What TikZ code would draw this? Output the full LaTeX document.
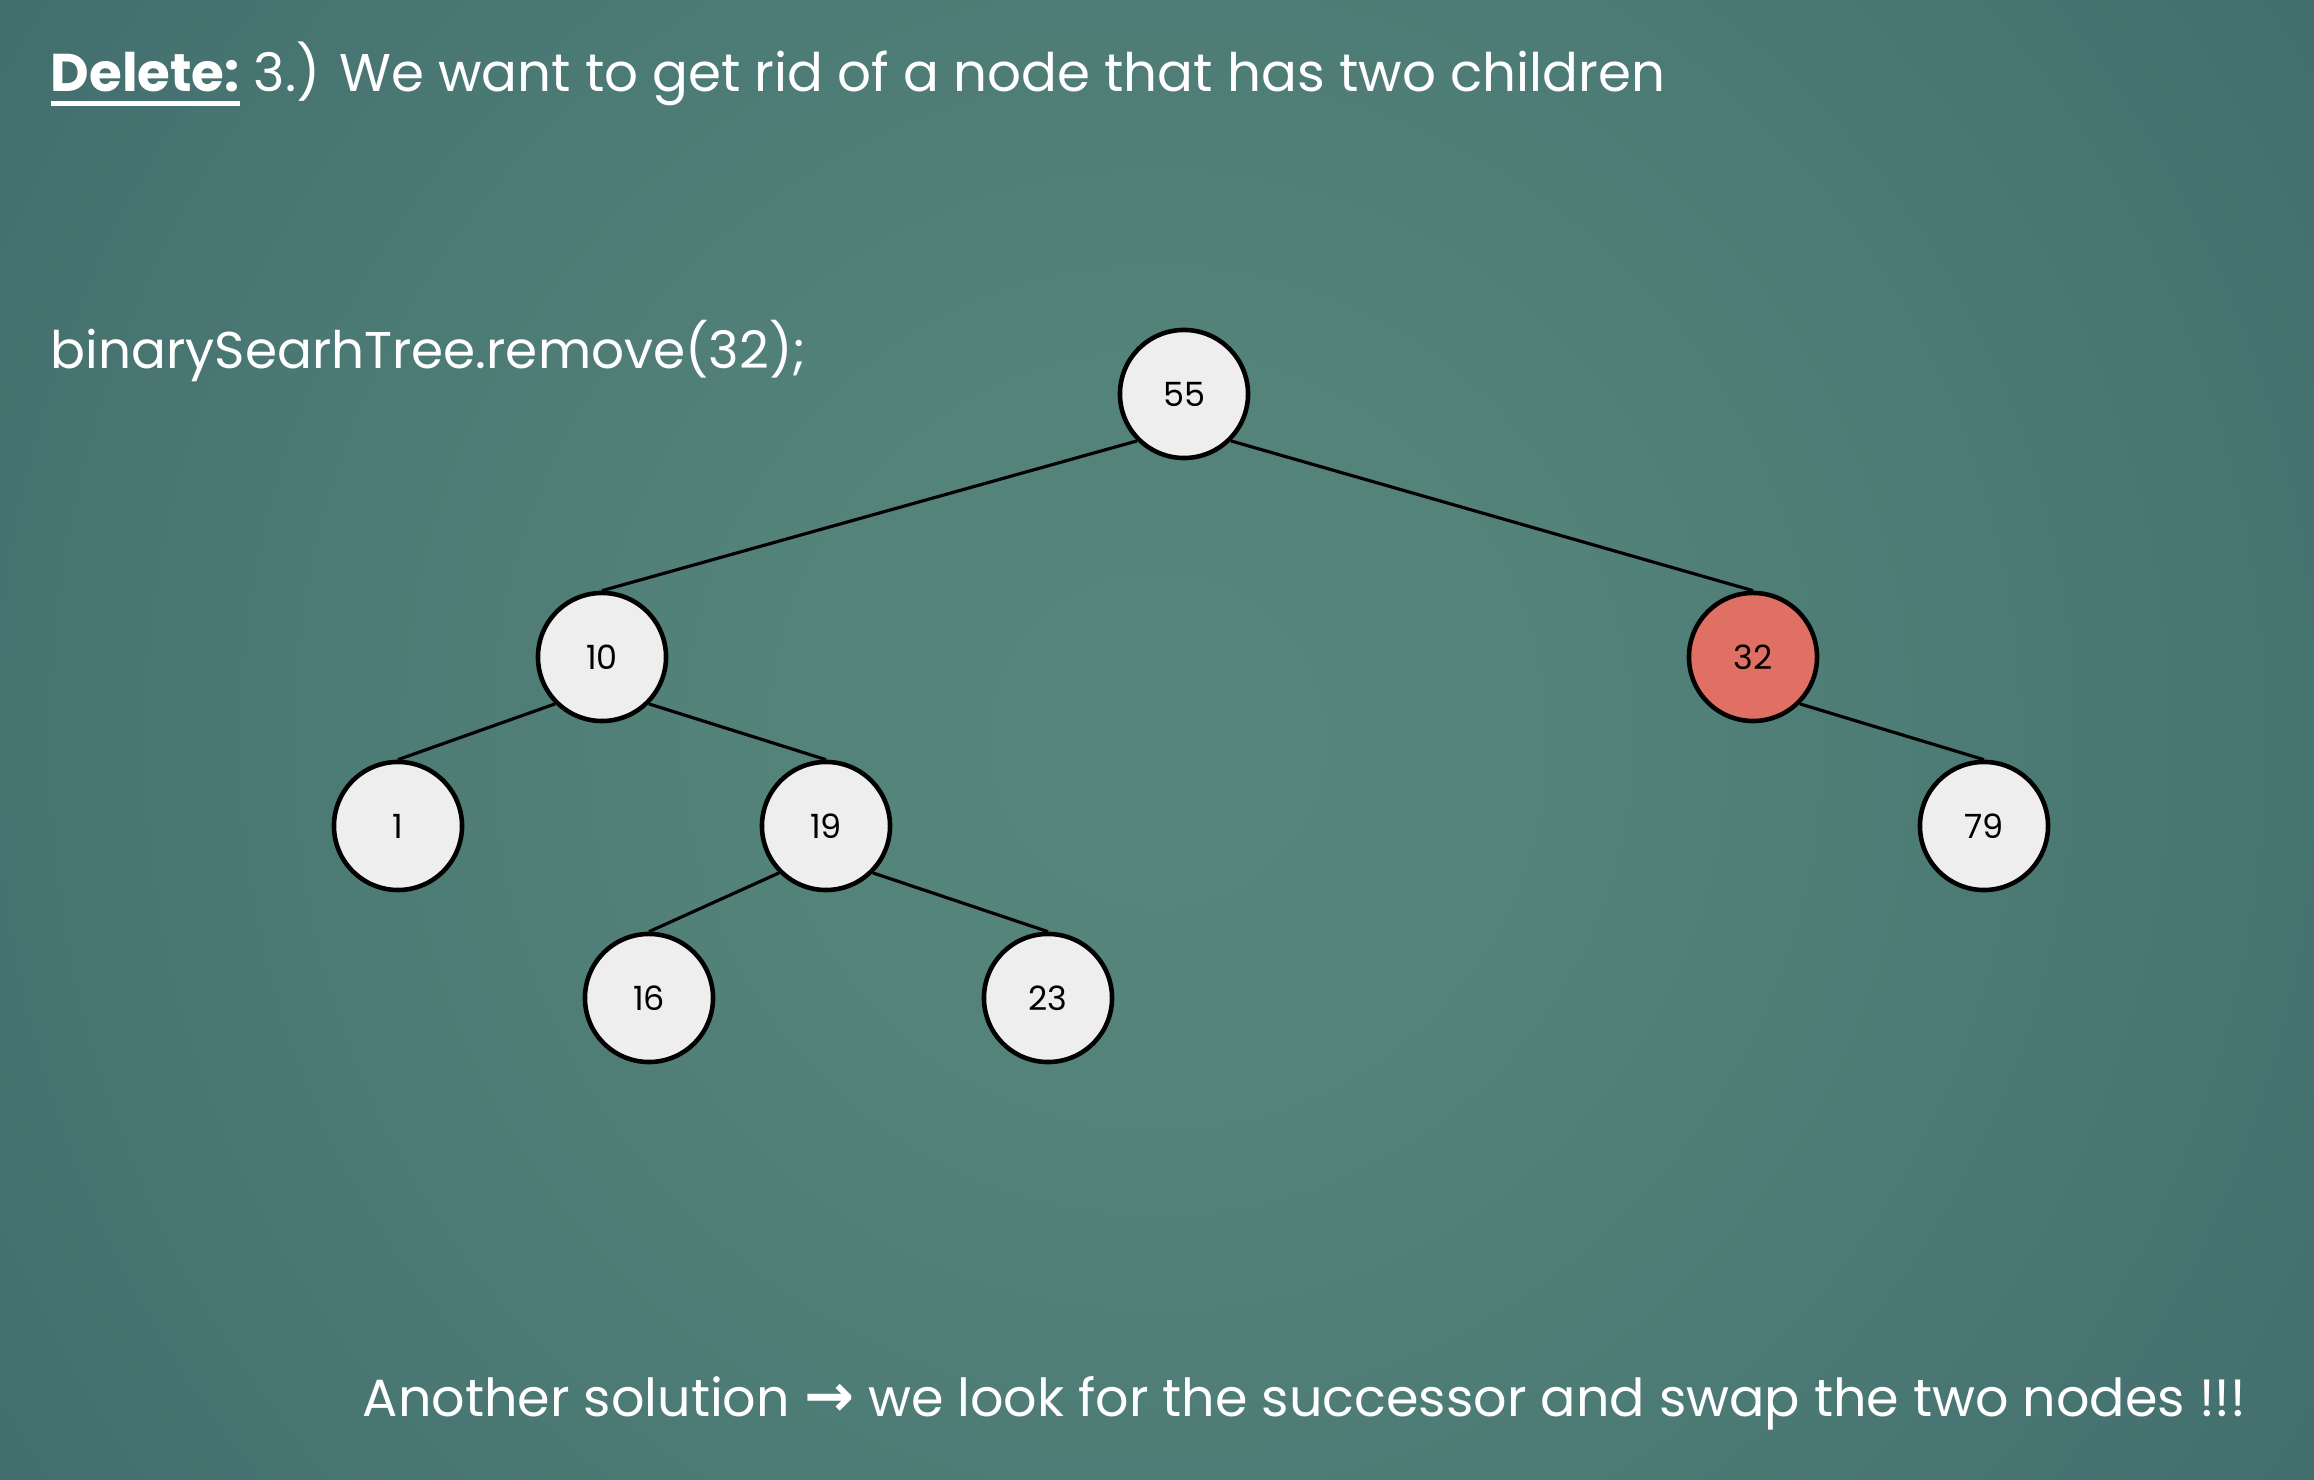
\documentclass[tikz,border=0pt]{standalone}
\usepackage{fontspec}
\setmainfont{Poppins}
\newfontfamily\arrowfont{DejaVu Sans}
\usetikzlibrary{positioning}
\definecolor{slidecentre}{RGB}{86,134,124}
\definecolor{slidelight}{RGB}{83,130,121}
\definecolor{slidemid}{RGB}{69,114,112}
\definecolor{slideedge}{RGB}{43,81,93}
\definecolor{slidedark}{RGB}{36,70,84}
\definecolor{nodegray}{RGB}{238,238,238}
\definecolor{delred}{RGB}{224,112,100}
\pgfdeclareradialshading{slidebg}{\pgfpoint{0bp}{0bp}}{color(0bp)=(slidecentre); color(8bp)=(slidelight); color(22bp)=(slidemid); color(41bp)=(slideedge); color(50bp)=(slidedark)}
\newcommand\thickul[1]{\setbox0\hbox{#1}\rlap{\rule[-0.14cm]{\wd0}{1.4pt}}\box0\relax}

\begin{document}
\begin{tikzpicture}[x=0.01cm, y=-0.01cm,
  treenode/.style={circle, draw=black, line width=1.3pt, fill=nodegray, minimum size=1.28cm, inner sep=0pt, font=\fontsize{9.5}{10}\selectfont},
  delnode/.style={treenode, fill=delred},
  link/.style={line width=0.9pt, black},
  slidetext/.style={anchor=base west, text=white, inner sep=0pt, font=\fontsize{15.1}{18}\selectfont}
]
  \begin{scope}
    \clip (0,0) rectangle (2314,1480);
    \shade[shading=slidebg] (1157,740) circle (14cm);
  \end{scope}
  \useasboundingbox (0,0) rectangle (2314,1480);

  \node[slidetext] (title) at (50,92) {\thickul{\textbf{Delete:}} 3.) We want to get rid of a node that has two children};
  \node[slidetext, font=\fontsize{14.7}{18}\selectfont] (code) at (50,369) {binarySearhTree.remove(32);};
  \node[slidetext, font=\fontsize{14.9}{18}\selectfont] (note) at (362,1417) {Another solution {\arrowfont\fontsize{17}{18}\selectfont\textbf{→}} we look for the successor and swap the two nodes !!!};

  % tree
  \node[treenode] (n55) at (1184,394) {55};
  \node[treenode] (n10) at (602,657) {10};
  \node[delnode] (n32) at (1753,657) {32};
  \node[treenode] (n1) at (398,826) {1};
  \node[treenode] (n19) at (826,826) {19};
  \node[treenode] (n79) at (1984,826) {79};
  \node[treenode] (n16) at (649,998) {16};
  \node[treenode] (n23) at (1048,998) {23};

  \draw[link] (n55.south west) -- (n10.north);
  \draw[link] (n55.south east) -- (n32.north);
  \draw[link] (n10.south west) -- (n1.north);
  \draw[link] (n10.south east) -- (n19.north);
  \draw[link] (n19.south west) -- (n16.north);
  \draw[link] (n19.south east) -- (n23.north);
  \draw[link] (n32.south east) -- (n79.north);
\end{tikzpicture}
\end{document}
